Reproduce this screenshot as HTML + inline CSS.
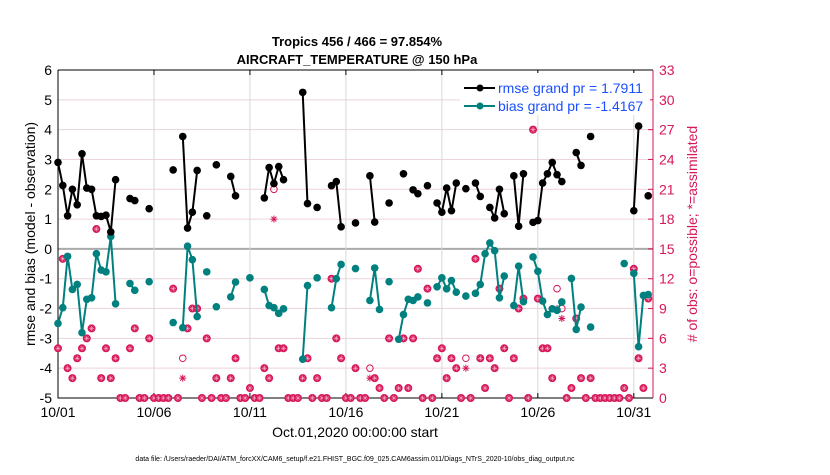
<!DOCTYPE html>
<html><head><meta charset="utf-8"><style>
body{margin:0;background:#fff;}
svg text{font-family:"Liberation Sans",sans-serif;}
</style></head><body>
<svg id="chart" width="830" height="470" xmlns="http://www.w3.org/2000/svg">
<text x="357" y="46" font-size="13" font-weight="bold" text-anchor="middle">Tropics 456 / 466 = 97.854%</text>
<text x="357" y="64" font-size="13" font-weight="bold" text-anchor="middle">AIRCRAFT_TEMPERATURE @ 150 hPa</text>
<g id="grid"></g>
<g id="axes"></g>
<g id="marks"></g>
<text x="355" y="437" font-size="14" text-anchor="middle">Oct.01,2020 00:00:00 start</text>
<text transform="translate(35,234) rotate(-90)" font-size="14" text-anchor="middle">rmse and bias (model - observation)</text>
<text transform="translate(697,234) rotate(-90)" font-size="14" fill="#d6175a" text-anchor="middle"># of obs: o=possible; *=assimilated</text>
<text x="355" y="461" font-size="7" text-anchor="middle">data file: /Users/raeder/DAI/ATM_forcXX/CAM6_setup/f.e21.FHIST_BGC.f09_025.CAM6assim.011/Diags_NTrS_2020-10/obs_diag_output.nc</text>
<g>
<rect x="460" y="73" width="190" height="42" fill="#fff"/>
<line x1="464" y1="88" x2="495" y2="88" stroke="#000" stroke-width="2"/><circle cx="480" cy="88" r="3.5" fill="#000"/>
<text x="498" y="93" font-size="14" fill="#1a4fff">rmse grand pr = 1.7911</text>
<line x1="464" y1="106" x2="495" y2="106" stroke="#00807f" stroke-width="2"/><circle cx="480" cy="106" r="3.5" fill="#00807f"/>
<text x="498" y="111" font-size="14" fill="#1a4fff">bias grand pr = -1.4167</text>
</g>
</svg>
<script>
const N = 124;
const rmseIdx = [0,1,2,3,4,5,6,7,8,9,10,11,12,15,16,19,24,26,27,28,29,31,33,36,37,43,44,45,46,47,51,52,54,57,58,59,62,65,66,69,72,74,75,77,79,80,81,82,83,85,87,88,90,91,92,93,95,96,97,99,100,101,102,103,104,105,108,109,111,120,121,123];
const rmseVals = [2.9,2.13,1.11,2.0,1.48,3.19,2.04,2.0,1.11,1.09,1.13,0.57,2.32,1.69,1.62,1.35,2.65,3.77,0.70,1.23,2.63,1.11,2.82,2.43,1.78,1.71,2.73,2.19,2.76,2.32,5.25,1.52,1.39,2.12,2.26,0.74,0.87,2.45,0.90,1.54,2.52,1.98,1.85,2.12,1.54,1.23,2.04,1.28,2.21,2.02,2.21,1.76,1.39,1.04,2.0,1.18,2.45,0.76,2.52,0.89,0.95,2.21,2.52,2.90,2.49,2.26,3.23,2.80,3.77,1.28,4.12,1.78];
const biasIdx = [0,1,2,3,4,5,6,7,8,9,10,11,12,15,16,19,24,26,27,28,29,31,33,36,37,40,43,44,45,46,47,51,52,54,57,58,59,62,65,66,67,69,71,72,73,74,75,77,79,80,81,82,83,85,87,88,89,90,91,92,93,95,96,97,99,100,101,102,103,104,105,107,108,109,111,118,120,121,122,123];
const biasVals = [-2.5,-1.97,-0.25,-1.36,-1.19,-2.81,-1.69,-1.64,-0.16,-0.71,-0.77,0.42,-1.84,-1.16,-1.39,-1.10,-2.47,-2.64,0.09,-0.36,-2.27,-0.77,-1.94,-1.61,-1.11,-0.97,-1.36,-1.90,-1.97,-2.16,-2.01,-3.70,-1.23,-0.97,-1.97,-1.0,-0.52,-0.66,-1.73,-0.64,-2.03,-1.10,-3.03,-2.2,-1.69,-1.73,-1.61,-1.81,-1.27,-0.97,-1.34,-1.06,-1.45,-1.58,-1.49,-1.19,-0.16,0.2,-0.06,-1.64,-0.91,-1.90,-0.58,-1.77,-0.27,-0.75,-1.75,-2.2,-2.01,-2.06,-1.78,-0.99,-2.70,-1.95,-2.62,-0.49,-0.82,-3.28,-1.56,-1.53];
const possible = [5,14,3,2,4,5,6,7,17,2,5,2,4,0,0,5,7,0,0,6,0,0,0,0,11,0,4,7,9,9,0,6,0,2,0,0,2,4,0,0,1,0,0,3,2,21,5,5,0,0,0,2,4,0,2,0,0,12,6,4,0,0,3,0,0,3,2,1,0,6,0,1,6,1,6,13,0,11,0,4,5,2,4,3,0,4,0,14,4,1,4,3,11,5,0,4,9,10,0,27,10,5,5,2,11,9,0,1,8,2,0,2,0,0,0,0,0,0,1,0,13,4,1,10];
const assimIdx = [26,45,65,85,104,105];
const assimDiff = [2,18,2,3,9,8];
const yTicks = [-5,-4,-3,-2,-1,0,1,2,3,4,5,6];
const y2Ticks = [0,3,6,9,12,15,18,21,24,27,30,33];
const xTickDays = [0,5,10,15,20,25,30];
const xTickLabels = ["10/01","10/06","10/11","10/16","10/21","10/26","10/31"];

const L=58,R=653,T=70,B=398;
const DAY=(R-L)/31;
const xS=i=>L+i*DAY/4;
const xD=d=>L+d*DAY;
const yS=v=>T+(6-v)*(B-T)/11;
const y2S=n=>yS(-5+n/3);
const NS="http://www.w3.org/2000/svg";
function mk(tag,attrs,parent){const e=document.createElementNS(NS,tag);for(const k in attrs)e.setAttribute(k,attrs[k]);parent.appendChild(e);return e;}
const grid=document.getElementById('grid'),axes=document.getElementById('axes'),marks=document.getElementById('marks');

yTicks.forEach(v=>{
  const g=mk('line',{x1:L,x2:R,y1:yS(v),y2:yS(v),stroke:v===0?'#aaa':'#ecd3dc','stroke-width':v===0?2:1},grid);
  
  
  const t=mk('text',{x:L-6,y:yS(v)+5,'font-size':14,'text-anchor':'end'},axes);t.textContent=v;
  
  
});
y2Ticks.forEach(n=>{
  const t=mk('text',{x:R+6,y:y2S(n)+5,'font-size':14,fill:'#d6175a'},axes);t.textContent=n;
  
  
  mk('line',{x1:R-5,x2:R,y1:y2S(n),y2:y2S(n),stroke:'#d6175a'},axes);
});
xTickDays.forEach((d,k)=>{
  const g=mk('line',{x1:xD(d),x2:xD(d),y1:T,y2:B,stroke:'#d8d8d8'},grid);
  
  
  mk('line',{x1:xD(d),x2:xD(d),y1:B,y2:B-5,stroke:'#000'},axes);
  mk('line',{x1:xD(d),x2:xD(d),y1:T,y2:T+5,stroke:'#000'},axes);
  const t=mk('text',{x:xD(d),y:B+19,'font-size':14,'text-anchor':'middle'},axes);t.textContent=xTickLabels[k];
  
  
});
mk('path',{d:`M${L},${T}H${R}`,stroke:'#000',fill:'none'},axes);
mk('path',{d:`M${L},${T}V${B}H${R}`,stroke:'#000',fill:'none'},axes);
mk('line',{x1:R,x2:R,y1:T,y2:B,stroke:'#d6175a'},axes);

function drawStar(cx,cy,col,w,r){
  for(let a=0;a<4;a++){const an=a*Math.PI/4;
    mk('line',{x1:cx-r*Math.cos(an),y1:cy-r*Math.sin(an),x2:cx+r*Math.cos(an),y2:cy+r*Math.sin(an),stroke:col,'stroke-width':w},marks);}
}
const assimMap={};assimIdx.forEach((i,k)=>assimMap[i]=assimDiff[k]);
possible.forEach((n,i)=>{
  if(n===null)return;
  const cx=xS(i);
  if(assimMap[i]!==undefined){
    const c=mk('circle',{cx:cx,cy:y2S(n),r:3.3,fill:'none',stroke:'#d6175a','stroke-width':1},marks);
    
    
    drawStar(cx,y2S(assimMap[i]),'#d6175a',1,3.5);
  } else {
    const c=mk('circle',{cx:cx,cy:y2S(n),r:4,fill:'#d6175a'},marks);
    
    
    drawStar(cx,y2S(n),'#f7c6d6',0.5,2.6);
  }
});
function series(idx,vals,col,name){
  let d='';
  idx.forEach((i,k)=>{d+=(k>0&&idx[k-1]===i-1?'L':'M')+xS(i).toFixed(1)+','+yS(vals[k]).toFixed(1);});
  const p=mk('path',{d:d,stroke:col,'stroke-width':2,fill:'none'},marks);
  
  
  idx.forEach((i,k)=>{
    const c=mk('circle',{cx:xS(i),cy:yS(vals[k]),r:3.8,fill:col},marks);
    
    
  });
}
series(biasIdx,biasVals,'#00807f','bias');
series(rmseIdx,rmseVals,'#000','rmse');
</script>
</body></html>
